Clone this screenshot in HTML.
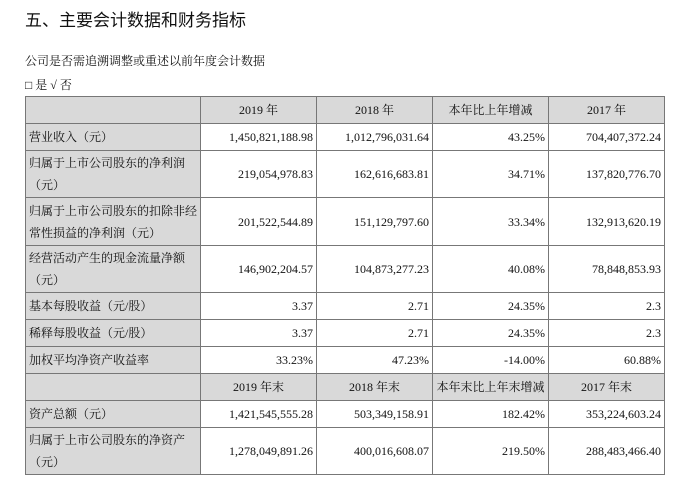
<!DOCTYPE html>
<html><head><meta charset="utf-8">
<style>
body{margin:0;width:679px;height:481px;background:#fff;position:relative;overflow:hidden;font-family:"Liberation Serif","Noto Serif CJK SC","Noto Sans CJK SC",serif;color:#111;}
.t{position:absolute;white-space:nowrap;}
.c{position:absolute;box-sizing:border-box;border:1px solid #777;font-size:12px;display:flex;align-items:center;padding:0 3px;line-height:22px;}
.g{background:#d9d9d9;}
.r{justify-content:flex-end;}
.m{justify-content:center;}
</style></head><body>
<div class="t" style="left:25px;top:6px;font-size:17px;font-family:'Noto Sans CJK SC',sans-serif;">五、主要会计数据和财务指标</div>
<div class="t" style="left:25px;top:52px;font-size:12px;">公司是否需追溯调整或重述以前年度会计数据</div>
<div class="t" style="left:25px;top:76px;font-size:12px;">□ 是 √ 否</div>
<div id="tbl"></div>
<script>
const cols=[25,200,316,432,548,664];
const rowsY=[96,123,150,197,245,292,319,346,373,400,427,474];
const data=[
["","2019 年","2018 年","本年比上年增减","2017 年",1],
["营业收入（元）","1,450,821,188.98","1,012,796,031.64","43.25%","704,407,372.24"],
["归属于上市公司股东的净利润<br>（元）","219,054,978.83","162,616,683.81","34.71%","137,820,776.70"],
["归属于上市公司股东的扣除非经<br>常性损益的净利润（元）","201,522,544.89","151,129,797.60","33.34%","132,913,620.19"],
["经营活动产生的现金流量净额<br>（元）","146,902,204.57","104,873,277.23","40.08%","78,848,853.93"],
["基本每股收益（元/股）","3.37","2.71","24.35%","2.3"],
["稀释每股收益（元/股）","3.37","2.71","24.35%","2.3"],
["加权平均净资产收益率","33.23%","47.23%","-14.00%","60.88%"],
["","2019 年末","2018 年末","本年末比上年末增减","2017 年末",1],
["资产总额（元）","1,421,545,555.28","503,349,158.91","182.42%","353,224,603.24"],
["归属于上市公司股东的净资产<br>（元）","1,278,049,891.26","400,016,608.07","219.50%","288,483,466.40"]
];
const tbl=document.getElementById('tbl');
data.forEach((row,ri)=>{
  for(let ci=0;ci<5;ci++){
    const d=document.createElement('div');
    
    
    const hdr=row[5]===1;
    d.className='c'+((hdr||ci===0)?' g':'')+(hdr?' m':(ci>0?' r':''));
    d.style.left=cols[ci]+'px';d.style.top=rowsY[ri]+'px';
    d.style.width=(cols[ci+1]-cols[ci]+1)+'px';d.style.height=(rowsY[ri+1]-rowsY[ri]+1)+'px';
    d.innerHTML='<span>'+row[ci]+'</span>';
    tbl.appendChild(d);
  }
});
</script>
</body></html>
